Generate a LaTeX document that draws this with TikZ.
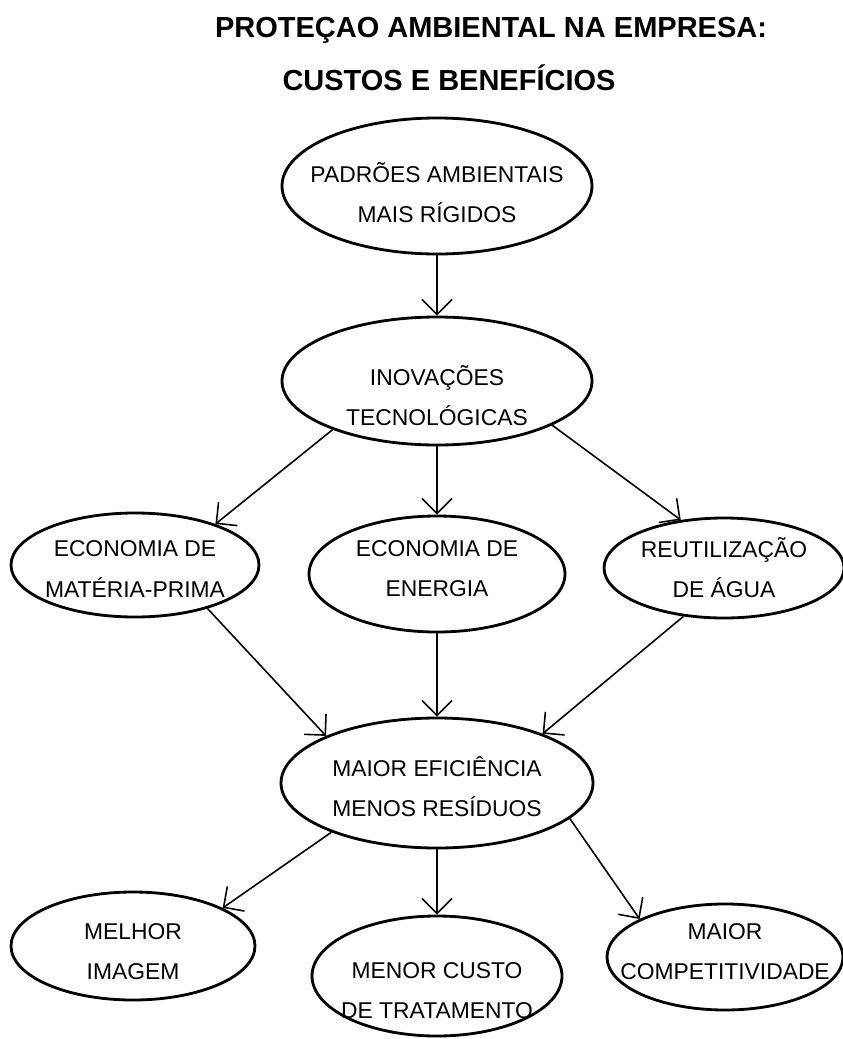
\documentclass[tikz,border=0pt]{standalone}
\usepackage{fontspec}
\setmainfont{Liberation Sans}
\usetikzlibrary{shapes.geometric,arrows.meta}

\begin{document}
\begin{tikzpicture}[
  bubble/.style={draw, ellipse, line width=1.6pt, inner sep=0pt},
  txt/.style={align=center, font=\fontsize{13}{22.8}\selectfont},
  link/.style={line width=0.9pt, -{Straight Barb[length=0.3cm,width=0.6cm]}}
]
  % Draw page frame
  \useasboundingbox (0,0) rectangle (16.86,-20.78);

  % Draw title
  \node[anchor=base, font=\bfseries\fontsize{16.5}{20}\selectfont] (title) at (9.82,-0.74) {PROTEÇAO AMBIENTAL NA EMPRESA:};
  \node[anchor=base, font=\bfseries\fontsize{16.5}{20}\selectfont] (subtitle) at (8.98,-1.80) {CUSTOS E BENEFÍCIOS};

  % Draw ellipses with their texts
  \node[bubble, minimum width=6.2cm, minimum height=2.72cm,
    label={[txt, yshift=-0.14cm]center:PADRÕES AMBIENTAIS\\MAIS RÍGIDOS}] (padroes) at (8.74,-3.72) {};
  \node[bubble, minimum width=6.2cm, minimum height=2.56cm,
    label={[txt, yshift=-0.3cm]center:INOVAÇÕES\\TECNOLÓGICAS}] (inovacoes) at (8.74,-7.62) {};
  \node[bubble, minimum width=4.96cm, minimum height=2.08cm,
    label={[txt, yshift=-0.08cm]center:ECONOMIA DE\\MATÉRIA-PRIMA}] (materia) at (2.70,-11.30) {};
  \node[bubble, minimum width=5.12cm, minimum height=2.32cm,
    label={[txt, yshift=0.1cm]center:ECONOMIA DE\\ENERGIA}] (energia) at (8.74,-11.48) {};
  \node[bubble, minimum width=4.8cm, minimum height=2.0cm,
    label={[txt]center:REUTILIZAÇÃO\\DE ÁGUA}] (agua) at (14.48,-11.36) {};
  \node[bubble, minimum width=6.24cm, minimum height=2.6cm,
    label={[txt, yshift=-0.08cm]center:MAIOR EFICIÊNCIA\\MENOS RESÍDUOS}] (eficiencia) at (8.74,-15.66) {};
  \node[bubble, minimum width=4.88cm, minimum height=2.16cm,
    label={[txt, yshift=-0.12cm]center:MELHOR\\IMAGEM}] (imagem) at (2.66,-18.92) {};
  \node[bubble, minimum width=5.0cm, minimum height=2.4cm,
    label={[txt, yshift=-0.3cm]center:MENOR CUSTO\\DE TRATAMENTO}] (custo) at (8.74,-19.52) {};
  \node[bubble, minimum width=4.72cm, minimum height=2.12cm,
    label={[txt, yshift=0.1cm]center:MAIOR\\COMPETITIVIDADE}] (competitividade) at (14.50,-19.14) {};

  % Draw arrows from the standards to the innovations
  \draw[link] (padroes.south) -- (inovacoes.north);

  % Draw arrows from the innovations to the savings
  \draw[link] (inovacoes.205) -- (materia.27);
  \draw[link] (inovacoes.south) -- (energia.north);
  \draw[link] (inovacoes.339) -- (agua.132);

  % Draw arrows from the savings to the efficiency
  \draw[link] (materia.329) -- (eficiencia.157);
  \draw[link] (energia.south) -- (eficiencia.north);
  \draw[link] (agua.230) -- (eficiencia.25);

  % Draw arrows from the efficiency to the benefits
  \draw[link] (eficiencia.205) -- (imagem.23);
  \draw[link] (eficiencia.south) -- (custo.north);
  \draw[link] (eficiencia.345) -- (competitividade.156);

\end{tikzpicture}
\end{document}
